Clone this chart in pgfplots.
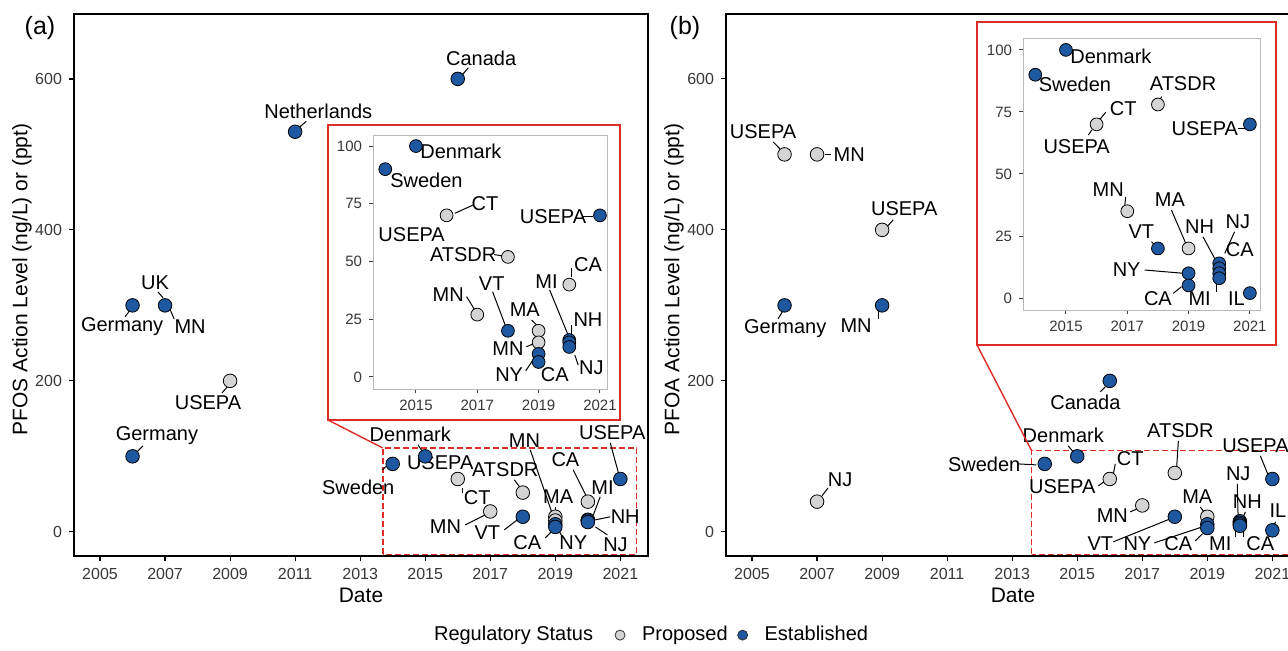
\documentclass[border=0pt]{standalone}
\usepackage{fontspec}
\setmainfont{Liberation Sans}
\usepackage{pgfplots}
\pgfplotsset{compat=1.18}
\definecolor{est}{RGB}{30,88,160}
\definecolor{prop}{RGB}{212,212,212}
\definecolor{zred}{RGB}{222,45,38}
\definecolor{tickgray}{RGB}{55,55,55}
\newcommand{\lf}{\fontsize{10}{12}\selectfont}
\newcommand{\lb}[3]{\node[font=\lf, inner sep=0pt] at (axis cs:#1,#2) {#3};}
\newcommand{\lw}[3]{\node[font=\lf, inner sep=0pt, anchor=west] at (axis cs:#1,#2) {#3};}
\newcommand{\ld}[4]{\draw[line width=0.5pt] (axis cs:#1,#2) -- (axis cs:#3,#4);}
\pgfplotsset{
  estp/.style={only marks, mark=*, mark size=3.4pt, mark options={fill=est, draw=black, line width=0.4pt}},
  propp/.style={only marks, mark=*, mark size=3.4pt, mark options={fill=prop, draw=black, line width=0.4pt}},
  estq/.style={only marks, mark=*, mark size=3.2pt, mark options={fill=est, draw=black, line width=0.4pt}},
  propq/.style={only marks, mark=*, mark size=3.2pt, mark options={fill=prop, draw=black, line width=0.4pt}},
  mainax/.style={scale only axis, width=287pt, height=271pt,
    xmin=2004.2, xmax=2021.85, ymin=-32, ymax=686,
    xtick={2005,2007,...,2021}, ytick={0,200,400,600},
    tick align=outside, tick pos=left, major tick length=2.5pt,
    tick style={black, line width=0.6pt}, axis line style={line width=0.7pt},
    ticklabel style={font=\fontsize{8}{9}\selectfont, text=tickgray},
    /pgf/number format/assume math mode=true,
    x tick label style={/pgf/number format/1000 sep=},
    label style={font=\fontsize{10.5}{12}\selectfont},
    xlabel={Date},
    xlabel style={at={(axis description cs:0.5,-0.072)}, anchor=center},
    ylabel style={at={(axis description cs:-0.0906,0.51)}, anchor=center},
    clip=false},
  insetax/.style={scale only axis, clip=false,
    xtick={2015,2017,2019,2021}, ytick={0,25,50,75,100},
    tick align=outside, tick pos=left, major tick length=2pt,
    axis line style={gray!55, line width=0.4pt},
    tick style={black!75, line width=0.5pt},
    ticklabel style={font=\fontsize{7.5}{9}\selectfont, text=tickgray},
    /pgf/number format/assume math mode=true,
    x tick label style={/pgf/number format/1000 sep=}},
}
\begin{document}
\begin{tikzpicture}
\path[use as bounding box] (0pt,0pt) rectangle (644pt,325.5pt);
\clip (0pt,0pt) rectangle (644pt,325.5pt);
% ---------------- panel (a) main
\begin{axis}[mainax, at={(37pt,47.5pt)}, anchor=south west,
  ylabel={PFOS Action Level (ng/L) or (ppt)},
  legend style={at={(0.994,-0.146)}, anchor=center, draw=none, fill=none,
    legend columns=3, font=\fontsize{10}{12}\selectfont,
    /tikz/every odd column/.append style={column sep=6.5pt},
    /tikz/every even column/.append style={column sep=3pt}}]
\addlegendimage{empty legend}\addlegendentry{Regulatory Status\hbox to 6pt{}}
\addlegendimage{only marks, mark=*, mark size=2.5pt, mark options={fill=prop, draw=black!80, line width=0.4pt}}\addlegendentry{Proposed}
\addlegendimage{only marks, mark=*, mark size=2.5pt, mark options={fill=est, draw=black!80, line width=0.4pt}}\addlegendentry{Established}
\draw[zred, dashed, dash pattern=on 3pt off 1.5pt, line width=0.6pt] (axis cs:2013.7,-30) rectangle (axis cs:2021.5,111);
\ld{2011.34}{543.7}{2011.09}{534.4}
\ld{2016.32}{614.6}{2016.14}{605.3}
\ld{2006.78}{317.9}{2006.94}{309.9}
\ld{2005.77}{284.8}{2005.95}{295.4}
\ld{2007.12}{298}{2007.28}{282}
\ld{2008.75}{184}{2008.94}{193.4}
\ld{2006.32}{113.9}{2006.14}{106}
\ld{2014.78}{115.2}{2014.94}{104.6}
\ld{2013.68}{82.1}{2013.92}{91.4}
\ld{2016.14}{58.3}{2016.14}{51.7}
\ld{2017.74}{68.9}{2017.92}{58.3}
\ld{2016.23}{9.3}{2016.85}{22.5}
\ld{2017.43}{2.6}{2017.83}{15.9}
\ld{2018.69}{-7.9}{2018.94}{2.6}
\ld{2019.22}{-6.6}{2019.09}{2.6}
\ld{2019}{33.1}{2019}{22.5}
\ld{2018.23}{108.6}{2018.94}{19.9}
\ld{2019.55}{82.1}{2019.98}{45}
\ld{2020.38}{46.4}{2020.17}{22.5}
\ld{2020.69}{19.9}{2020.23}{15.9}
\ld{2020.6}{-4}{2020.23}{6.6}
\ld{2020.69}{117.9}{2020.94}{78.1}
\addplot[propp, forget plot] coordinates {(2009,200) (2016,70) (2017,27) (2018,52) (2019,20) (2019,15) (2020,40)};
\addplot[estp, forget plot] coordinates {(2006,300) (2007,300) (2006,100) (2011,530) (2016,600) (2014,90) (2015,100) (2018,20) (2019,10) (2019,6.5) (2020,16) (2020,15) (2020,13) (2021,70)};
\lb{2011.71}{557.6}{Netherlands}
\lb{2016.72}{627.8}{Canada}
\lb{2006.69}{329.8}{UK}
\lb{2005.68}{271.5}{Germany}
\lb{2007.77}{271.5}{MN}
\lb{2008.32}{170.9}{USEPA}
\lb{2006.75}{127.2}{Germany}
\lb{2014.54}{128.5}{Denmark}
\lb{2012.94}{58.3}{Sweden}
\lb{2015.46}{91.4}{USEPA}
\lb{2016.6}{45}{CT}
\lb{2017.46}{82.1}{ATSDR}
\lb{2015.62}{6.6}{MN}
\lb{2016.91}{-1.3}{VT}
\lb{2018.14}{-14.6}{CA}
\lb{2019.55}{-14.6}{NY}
\lb{2019.09}{46.4}{MA}
\lb{2018.05}{120.5}{MN}
\lb{2019.31}{95.4}{CA}
\lb{2020.45}{58.3}{MI}
\lb{2021.15}{19.9}{NH}
\lb{2020.85}{-17.2}{NJ}
\lb{2020.75}{131.1}{USEPA}
\end{axis}
% ---------------- panel (b) main
\begin{axis}[mainax, at={(363pt,47.5pt)}, anchor=south west,
  ylabel={PFOA Action Level (ng/L) or (ppt)}]
\draw[zred, dashed, dash pattern=on 3pt off 1.5pt, line width=0.6pt] (axis cs:2013.6,-30) rectangle (axis cs:2022.5,108);
\ld{2005.65}{516.6}{2005.86}{507.3}
\ld{2007.25}{499.3}{2007.43}{499.3}
\ld{2009.34}{413.2}{2009.15}{404}
\ld{2005.8}{282.1}{2005.95}{292.7}
\ld{2008.88}{282.1}{2008.88}{292.7}
\ld{2007.34}{58.3}{2007.15}{47.7}
\ld{2015.71}{185.4}{2015.86}{192}
\ld{2013.18}{90}{2013.74}{88.7}
\ld{2014.72}{113.9}{2014.85}{107.3}
\ld{2016.17}{90}{2016.11}{76.8}
\ld{2015.65}{60.9}{2015.86}{67.5}
\ld{2018.11}{120.5}{2018.05}{80.8}
\ld{2016.63}{26.5}{2016.85}{30.5}
\ld{2018.78}{33.1}{2018.94}{23.8}
\ld{2016.11}{-13.2}{2017.86}{17.2}
\ld{2017.37}{-14.6}{2018.85}{6.6}
\ld{2018.63}{-11.9}{2018.85}{-2.6}
\ld{2019.86}{-6.6}{2019.86}{1.3}
\ld{2020.11}{-6.6}{2020.11}{1.3}
\ld{2019.92}{63.6}{2019.95}{14.6}
\ld{2020.17}{26.5}{2020.08}{17.2}
\ld{2020.63}{100.7}{2020.88}{74.2}
\ld{2021.1}{13.2}{2021.03}{6.6}
\addplot[propp, forget plot] coordinates {(2006,500) (2007,500) (2009,400) (2007,40) (2016,70) (2017,35) (2018,78) (2019,20)};
\addplot[estp, forget plot] coordinates {(2006,300) (2009,300) (2016,200) (2014,90) (2015,100) (2018,20) (2019,10) (2019,5.1) (2020,14) (2020,12) (2020,10) (2020,8) (2021,70) (2021,2)};
\lb{2005.34}{529.8}{USEPA}
\lw{2007.5}{499.3}{MN}
\lb{2009.68}{427.8}{USEPA}
\lb{2006.02}{268.9}{Germany}
\lb{2008.2}{272.8}{MN}
\lb{2007.71}{68.9}{NJ}
\lb{2015.25}{170.9}{Canada}
\lb{2012.14}{90}{Sweden}
\lb{2014.57}{127.2}{Denmark}
\lb{2016.63}{96.7}{CT}
\lb{2014.54}{59.6}{USEPA}
\lb{2018.17}{133.8}{ATSDR}
\lb{2016.08}{21.2}{MN}
\lb{2018.69}{46.4}{MA}
\lb{2015.71}{-15.9}{VT}
\lb{2016.85}{-15.9}{NY}
\lb{2018.11}{-15.9}{CA}
\lb{2019.4}{-15.9}{MI}
\lb{2020.63}{-15.9}{CA}
\lb{2019.95}{76.8}{NJ}
\lb{2020.23}{39.7}{NH}
\lb{2020.48}{113.9}{USEPA}
\lb{2021.17}{27.8}{IL}
\end{axis}
% ---------------- inset (a)
\filldraw[fill=white, draw=zred, line width=0.8pt] (164pt,115.5pt) rectangle (310pt,263pt);
\begin{axis}[insetax, at={(186.5pt,131pt)}, anchor=south west, width=117pt, height=127pt,
  xmin=2013.6, xmax=2021.23, ymin=-5.2, ymax=104.8]
\ld{2016.27}{70.9}{2016.87}{74.5}
\ld{2017.55}{53}{2017.8}{52.5}
\ld{2016.65}{34.8}{2016.92}{29}
\ld{2017.5}{36.9}{2017.95}{21.1}
\ld{2018.77}{24.7}{2018.93}{22.5}
\ld{2018.6}{13.1}{2018.82}{14.3}
\ld{2018.58}{2.7}{2018.82}{7.4}
\ld{2020.07}{47}{2020.07}{43.4}
\ld{2019.36}{37.7}{2019.96}{18.2}
\ld{2020.07}{22.5}{2020.07}{18.2}
\ld{2020.18}{9.5}{2020.29}{5.2}
\ld{2020.45}{69.4}{2020.78}{69.4}
\addplot[propq] coordinates {(2016,70) (2017,27) (2018,52) (2019,20) (2019,15) (2020,40)};
\addplot[estq] coordinates {(2014,90) (2015,100) (2018,20) (2019,10) (2019,6.5) (2020,16) (2020,15) (2020,13) (2021,70)};
\lw{2015.13}{97.5}{Denmark}
\lw{2014.15}{85}{Sweden}
\lb{2017.25}{75.2}{CT}
\lb{2014.86}{61.5}{USEPA}
\lb{2016.54}{52.8}{ATSDR}
\lb{2016.05}{35.5}{MN}
\lb{2017.47}{40.6}{VT}
\lb{2018.55}{29}{MA}
\lb{2018.0}{12.4}{MN}
\lb{2018.04}{0.9}{NY}
\lb{2019.53}{0.9}{CA}
\lb{2020.61}{48.5}{CA}
\lb{2019.26}{41.3}{MI}
\lb{2020.61}{24.7}{NH}
\lb{2020.72}{3.8}{NJ}
\lb{2019.47}{69.4}{USEPA}
\end{axis}
% ---------------- inset (b)
\filldraw[fill=white, draw=zred, line width=0.8pt] (488.5pt,153pt) rectangle (638pt,314.5pt);
\begin{axis}[insetax, at={(511.5pt,170.5pt)}, anchor=south west, width=118.5pt, height=136pt,
  xmin=2013.6, xmax=2021.33, ymin=-4.8, ymax=104.8]
\ld{2018.12}{81.2}{2018.01}{78.5}
\ld{2016.3}{74.9}{2016.05}{71.1}
\ld{2015.84}{67.7}{2015.73}{65.7}
\ld{2020.61}{68.4}{2020.88}{68.4}
\ld{2016.95}{40.8}{2016.92}{37.5}
\ld{2017.79}{22.7}{2017.95}{20.7}
\ld{2018.44}{35.5}{2018.93}{21.4}
\ld{2019.47}{24.7}{2019.91}{14.6}
\ld{2020.5}{26.7}{2020.18}{18}
\ld{2017.57}{11.3}{2018.82}{10}
\ld{2018.5}{1.9}{2018.77}{4.6}
\ld{2019.91}{2.5}{2019.91}{6.6}
\addplot[propq] coordinates {(2016,70) (2017,35) (2018,78) (2019,20)};
\addplot[estq] coordinates {(2014,90) (2015,100) (2018,20) (2019,10) (2019,5.1) (2020,14) (2020,12) (2020,10) (2020,8) (2021,70) (2021,2)};
\lw{2015.13}{97.5}{Denmark}
\lw{2014.1}{86}{Sweden}
\lb{2018.82}{86.6}{ATSDR}
\lb{2016.87}{76.5}{CT}
\lb{2015.35}{61}{USEPA}
\lb{2019.53}{68.4}{USEPA}
\lb{2016.38}{43.5}{MN}
\lb{2017.46}{26.7}{VT}
\lb{2018.39}{39.5}{MA}
\lb{2019.36}{28.8}{NH}
\lb{2020.61}{30.8}{NJ}
\lb{2020.67}{19.4}{CA}
\lb{2016.98}{11.3}{NY}
\lb{2018.0}{-0.1}{CA}
\lb{2019.36}{-0.1}{MI}
\lb{2020.56}{-0.1}{IL}
\end{axis}
\draw[zred, line width=0.7pt] (164pt,115.5pt) -- (191.4pt,101.5pt);
\draw[zred, line width=0.7pt] (488.5pt,153pt) -- (515.75pt,100.25pt);
\node[font=\fontsize{12.5}{14}\selectfont] at (20pt,311.5pt) {(a)};
\node[font=\fontsize{12.5}{14}\selectfont] at (342.5pt,311.5pt) {(b)};
\end{tikzpicture}
\end{document}
